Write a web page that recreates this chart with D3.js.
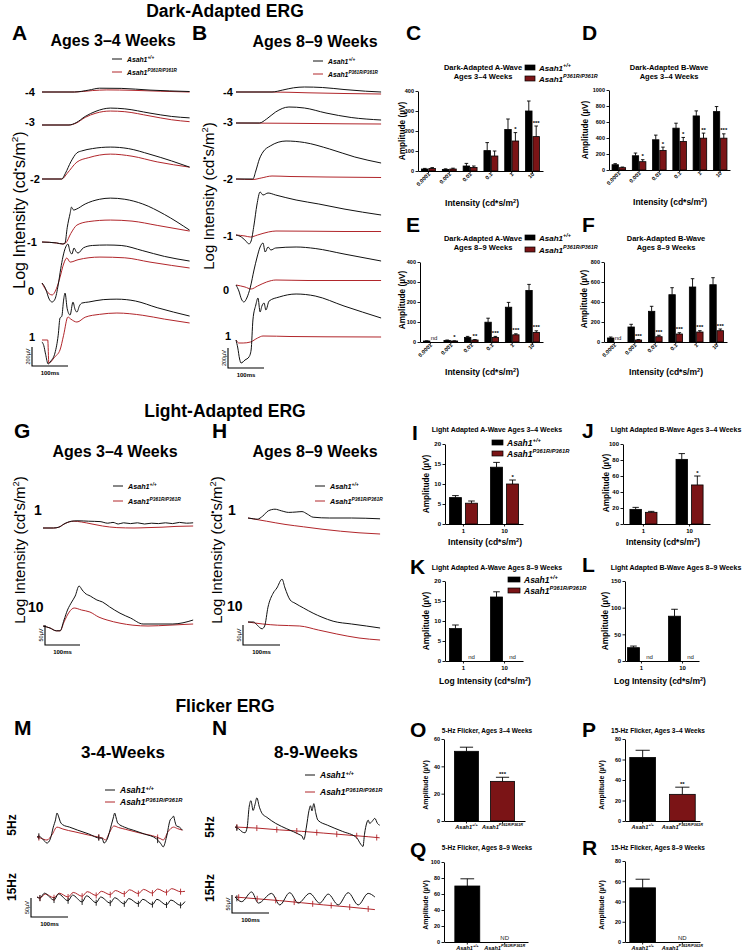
<!DOCTYPE html>
<html><head><meta charset="utf-8"><title>ERG figure</title>
<script src="https://cdn.jsdelivr.net/npm/d3@7/dist/d3.min.js"></script>
<style>html,body{margin:0;padding:0;background:#fff}svg{display:block}</style>
</head><body>
<script>
// ====================== DATA ======================
const genoSup = ["+/+", "P361R/P361R"];

// Dark-adapted ERG traces: [time ms, amplitude uV] relative to each row baseline
const daRowLabels = ["-4","-3","-2","-1","0","1"];
const daTraceYoungWT = [
 [[0,0],[90,0],[130,20],[160,40],[220,38],[300,20],[410,5]],
 [[0,0],[75,0],[95,25],[120,90],[150,145],[190,178],[230,170],[300,125],[360,90],[410,75]],
 [[0,0],[55,0],[65,60],[80,180],[97,275],[110,295],[140,320],[190,336],[240,320],[300,260],[360,190],[410,125]],
 [[0,0],[40,-10],[58,-21],[64,-10],[70,150],[78,300],[82,367],[88,336],[95,345],[120,400],[160,450],[190,462],[230,450],[280,400],[340,290],[410,125]],
 [[0,0],[10,-60],[20,-170],[28,-200],[36,-170],[45,-20],[52,150],[58,273],[66,380],[72,410],[78,330],[83,305],[89,368],[95,330],[100,315],[115,370],[140,395],[180,400],[220,395],[280,340],[340,280],[410,231]],
 [[0,-20],[5,-60],[10,-150],[17,-252],[25,-220],[36,-137],[45,50],[50,231],[55,250],[60,420],[64,494],[70,330],[78,263],[86,399],[92,320],[97,294],[104,360],[111,389],[130,400],[170,425],[208,430],[260,410],[320,340],[410,252]]
];
const daTraceYoungKO = [
 [[0,0],[90,0],[140,15],[180,22],[250,18],[330,8],[410,0]],
 [[0,0],[75,0],[95,20],[120,80],[150,125],[190,147],[230,140],[300,95],[360,55],[410,35]],
 [[0,0],[55,0],[70,60],[97,178],[130,225],[190,262],[250,240],[320,180],[410,125]],
 [[0,0],[40,-10],[58,-21],[66,-10],[80,90],[97,178],[130,215],[190,231],[250,220],[320,175],[410,115]],
 [[0,0],[12,-80],[28,-126],[40,-60],[50,60],[60,200],[69,263],[78,220],[100,245],[161,273],[230,265],[300,220],[360,185],[410,158]],
 [[0,0],[16,0],[19,-242],[35,-180],[50,-105],[60,50],[72,242],[80,220],[97,189],[120,240],[160,270],[208,284],[280,260],[340,220],[410,179]]
];
const daTraceOldWT = [
 [[0,0],[100,0],[130,20],[160,42],[190,50],[240,45],[300,25],[360,8],[403,0]],
 [[0,0],[65,0],[85,40],[110,110],[147,160],[190,150],[250,100],[320,55],[403,30]],
 [[0,0],[47,0],[55,80],[65,200],[75,270],[95,330],[139,380],[190,365],[260,300],[330,220],[403,160]],
 [[0,0],[15,-20],[30,-70],[36,-90],[42,-60],[50,100],[58,300],[67,430],[75,400],[89,420],[110,400],[167,350],[230,310],[300,260],[403,200]],
 [[0,0],[8,-60],[15,-140],[22,-170],[30,-130],[40,-20],[50,150],[58,270],[67,380],[75,420],[81,330],[89,380],[97,350],[110,370],[167,380],[220,365],[300,310],[403,240]],
 [[0,0],[5,-80],[10,-190],[14,-230],[25,-200],[36,-170],[42,-100],[47,200],[55,350],[61,420],[67,280],[72,340],[78,370],[83,300],[92,390],[120,430],[167,460],[220,440],[300,340],[403,220]]
];
const daTraceOldKO = [
 [[0,0],[100,0],[200,-8],[300,-15],[403,-20]],
 [[0,0],[150,-3],[300,-8],[403,-10]],
 [[0,0],[47,-5],[70,10],[100,30],[150,25],[250,20],[403,15]],
 [[0,0],[25,-10],[40,-20],[60,0],[90,30],[111,40],[200,38],[300,35],[403,35]],
 [[0,0],[25,-20],[42,-40],[60,-10],[85,30],[111,50],[200,45],[300,45],[403,45]],
 [[0,0],[8,-30],[20,-30],[40,-20],[60,20],[75,40],[150,35],[250,32],[403,30]]
];

// Light-adapted ERG traces
const laRowLabels = ["1","10"];
const laTraceYoungWT = [
 [[0,0],[30,0],[45,2],[60,10],[82,17],[100,18],[130,17],[163,16],[185,12],[200,14],[215,10],[230,13],[250,11],[270,13],[290,10],[310,12],[330,11],[350,13],[370,11],[390,14],[410,12],[429,13]],
 [[0,0],[20,-5],[38,-12],[49,-12],[60,15],[70,40],[82,60],[92,75],[103,100],[112,90],[120,82],[135,75],[154,65],[170,60],[190,48],[220,32],[250,20],[286,5],[320,5],[371,5],[400,8],[429,15]]
];
const laTraceYoungKO = [
 [[0,0],[30,0],[45,2],[65,12],[88,17],[110,15],[140,10],[170,5],[211,1],[260,0],[300,1],[340,2],[380,4],[429,5]],
 [[0,0],[20,-5],[38,-12],[49,-12],[60,10],[75,35],[89,45],[110,40],[134,35],[160,22],[183,15],[220,7],[257,2],[300,0],[360,2],[429,5]]
];
const laTraceOldWT = [
 [[0,0],[15,-2],[25,-3],[40,5],[55,18],[73,22],[90,18],[110,14],[130,15],[146,16],[160,10],[176,2],[220,0],[280,0],[357,-2]],
 [[0,0],[15,0],[25,-8],[38,-17],[45,-10],[54,37],[68,72],[78,85],[92,107],[100,85],[114,55],[127,47],[150,35],[176,22],[200,12],[230,2],[280,-5],[320,-10],[357,-15]]
];
const laTraceOldKO = [
 [[0,0],[50,-8],[100,-16],[150,-22],[200,-28],[250,-33],[300,-37],[357,-40]],
 [[0,0],[40,-5],[80,-8],[140,-10],[190,-20],[240,-30],[300,-40],[357,-45]]
];

// Flicker ERG traces
const flRowLabels = ["5Hz","15Hz"];
const flTraceYoungWT = [
 [[0,0],[5,2],[15,-5],[27,-16],[36,-5],[44,26],[50,45],[54,63],[58,55],[63,40],[70,32],[88,26],[110,18],[140,8],[170,-3],[176,-3],[181,-16],[190,-5],[201,32],[206,50],[210,63],[214,50],[218,37],[236,26],[260,18],[290,8],[323,-5],[335,-18],[341,-26],[350,0],[360,45],[365,50],[369,55],[373,40],[377,29],[385,26],[393,18]],
 [[0,0],[8,-3],[20,10],[46,-8],[58,8],[84,-10],[96,5],[122,-13],[134,3],[160,-15],[172,0],[198,-16],[210,-2],[236,-18],[248,-4],[274,-18],[286,-6],[312,-20],[324,-6],[350,-21],[362,-8],[388,-22],[400,-12]]
];
const flTraceYoungKO = [
 [[0,0],[10,-3],[27,-8],[40,5],[54,26],[62,24],[70,21],[100,14],[140,5],[170,-1],[178,-3],[185,-8],[195,10],[208,29],[220,25],[240,20],[280,10],[323,0],[335,-5],[341,-8],[355,15],[369,26],[380,22],[393,18]],
 [[0,0],[8,-3],[22,8],[46,-2],[60,10],[84,0],[98,12],[122,2],[136,14],[160,4],[174,15],[198,6],[212,17],[236,8],[250,19],[274,9],[288,20],[312,10],[326,21],[350,12],[364,22],[388,14],[400,15]]
];
const flTraceOldWT = [
 [[0,0],[10,-5],[20,-14],[27,-16],[33,0],[38,54],[43,73],[49,46],[54,62],[59,81],[66,55],[73,38],[86,27],[110,10],[140,-5],[176,-22],[181,-25],[186,-35],[193,0],[200,46],[204,59],[208,45],[213,65],[218,40],[224,19],[250,5],[290,-12],[329,-30],[340,-48],[346,-54],[350,-20],[356,11],[360,19],[364,10],[370,15],[378,24],[385,10],[391,5]],
 [[0,0],[18,-13],[45,14],[63,-17],[99,10],[121,-22],[148,12],[171,-17],[202,10],[229,-17],[252,8],[279,-22],[306,12],[333,-22],[360,10],[378,0]]
];
const flTraceOldKO = [
 [[0,0],[60,-3],[120,-8],[180,-12],[240,-17],[300,-22],[360,-27],[391,-30]],
 [[0,0],[60,-5],[120,-10],[180,-16],[240,-22],[300,-27],[378,-35]]
];
// stimulus / point markers (ms)
const flMarksYoungWT = [[5,167,326],[8,46,84,122,160,198,236,274,312,350,388]];
const flMarksYoungKO = [[5,167,326],[8,46,84,122,160,198,236,274,312,350,388]];
const flMarksOldWT = [[5],[5]];
const flMarksOldKO = [[5,59,113,167,221,275,329,383],[10,60,110,160,210,260,310,360]];

// Dark-adapted bar data (uV)
const daIntensities = ["0.0001","0.001","0.01","0.1","1","10"];
const daAYoungWT = [10,8,25,102,208,300],   daAYoungWTErr = [3,3,13,40,52,50];
const daAYoungKO = [13,10,18,75,150,172],   daAYoungKOErr = [4,4,7,25,42,53];
const daAYoungSig = ["","","","","*","***"];
const daBYoungWT = [66,178,378,523,676,730], daBYoungWTErr = [13,34,58,62,63,63];
const daBYoungKO = [29,104,245,357,398,398], daBYoungKOErr = [8,25,41,50,63,54];
const daBYoungSig = ["","*","*","*","**","***"];
const daAOldWT = [5,8,23,99,174,258],       daAOldWTErr = [1,2,5,20,24,30];
const daAOldKO = [null,5,10,23,36,48],      daAOldKOErr = [0,1,2,5,5,8];
const daAOldSig = ["nd","*","**","***","***","***"];
const daBOldWT = [40,150,307,473,550,573],  daBOldWTErr = [10,27,50,70,83,70];
const daBOldKO = [null,20,53,80,100,113],   daBOldKOErr = [0,4,14,13,13,17];
const daBOldSig = ["nd","***","***","***","***","***"];

// Light-adapted bar data
const laIntensities = ["1","10"];
const laAYoungWT = [6.6,14.2], laAYoungWTErr = [0.5,1.2];
const laAYoungKO = [5.2,10.0], laAYoungKOErr = [0.55,1.0];
const laAYoungSig = ["","*"];
const laBYoungWT = [18.3,80.8], laBYoungWTErr = [2.5,7.2];
const laBYoungKO = [14.6,48.8], laBYoungKOErr = [1.2,11.2];
const laBYoungSig = ["","*"];
const laAOldWT = [8.1,16.0], laAOldWTErr = [0.9,1.3];
const laAOldKO = [null,null], laAOldKOErr = [0,0];
const laAOldSig = ["nd","nd"];
const laBOldWT = [25,84], laBOldWTErr = [3,13];
const laBOldKO = [null,null], laBOldKOErr = [0,0];
const laBOldSig = ["nd","nd"];

// Flicker bar data [WT, KO]
const fl5Young = [51,29],  fl5YoungErr = [3,3],  fl5YoungSig = ["","***"];
const fl15Young = [62,26], fl15YoungErr = [7,7], fl15YoungSig = ["","**"];
const fl5Old = [70,null],  fl5OldErr = [9,0],    fl5OldSig = ["","ND"];
const fl15Old = [53.5,null], fl15OldErr = [8.5,0], fl15OldSig = ["","ND"];

// ====================== DRAWING ======================
const FONT = "'Liberation Sans', Arial, Helvetica, sans-serif";
const BLACK = "#111", RED_LINE = "#b1262b", RED_BAR = "#7b1416";
const svg = d3.select("body").append("svg").attr("width",747).attr("height",951)
  .attr("font-family",FONT);

function txt(x,y,s,o={}){
  const t = svg.append("text").attr("x",x).attr("y",y).text(s)
    .attr("font-size",o.size||10).attr("font-weight",o.weight||"bold")
    .attr("text-anchor",o.anchor||"start").attr("fill",o.fill||"#000");
  if(o.italic) t.attr("font-style","italic");
  if(o.rotate!=null) t.attr("transform",`rotate(${o.rotate},${x},${y})`);
  return t;
}
function geno(x,y,sup,size,anchor){
  const t = svg.append("text").attr("x",x).attr("y",y).attr("font-size",size)
    .attr("font-weight","bold").attr("font-style","italic").attr("text-anchor",anchor||"start");
  t.append("tspan").text("Asah1");
  t.append("tspan").attr("dy",-size*0.4).attr("font-size",size*0.68).text(sup);
  return t;
}
function logIntensityLabel(x,y,size){
  const t = svg.append("text").attr("transform",`translate(${x},${y}) rotate(-90)`)
    .attr("text-anchor","middle").attr("font-size",size);
  t.append("tspan").text("Log Intensity (cd");
  t.append("tspan").attr("dy",-size*0.35).attr("font-size",size*0.6).text("\u2022");
  t.append("tspan").attr("dy",size*0.35).text("s/m");
  t.append("tspan").attr("dy",-size*0.4).attr("font-size",size*0.62).text("2");
  t.append("tspan").attr("dy",size*0.4).text(")");
}
function intensityTitle(x,y,size,prefix){
  const t = svg.append("text").attr("x",x).attr("y",y).attr("text-anchor","middle")
    .attr("font-size",size).attr("font-weight","bold");
  t.append("tspan").text(prefix+"Intensity (cd*s/m");
  t.append("tspan").attr("dy",-size*0.4).attr("font-size",size*0.65).text("2");
  t.append("tspan").attr("dy",size*0.4).text(")");
}
function traceLegend(x,y,size,gap){
  svg.append("line").attr("x1",x).attr("x2",x+10).attr("y1",y).attr("y2",y).attr("stroke",BLACK).attr("stroke-width",1);
  geno(x+15,y+size*0.38,genoSup[0],size);
  svg.append("line").attr("x1",x).attr("x2",x+10).attr("y1",y+gap).attr("y2",y+gap).attr("stroke",RED_LINE).attr("stroke-width",1);
  geno(x+15,y+gap+size*0.38,genoSup[1],size);
}
function interp(pts,t){
  const i = d3.bisector(d=>d[0]).left(pts,t);
  if(i<=0) return pts[0][1];
  if(i>=pts.length) return pts[pts.length-1][1];
  const a=pts[i-1], b=pts[i], f=(t-a[0])/(b[0]-a[0]);
  return a[1]+f*(b[1]-a[1]);
}
function drawTraces(p){
  const x = d3.scaleLinear().domain([0,100]).range([p.x0,p.x0+p.px100]);
  const a = d3.scaleLinear().domain([0,p.barUV]).range([0,p.barPx]);
  p.labels.forEach((lab,i)=>{
    const base = p.bases[i];
    const line = d3.line().x(d=>x(d[0])).y(d=>base-a(d[1])).curve(d3.curveMonotoneX);
    svg.append("path").attr("d",line(p.ko[i])).attr("fill","none").attr("stroke",RED_LINE).attr("stroke-width",1);
    svg.append("path").attr("d",line(p.wt[i])).attr("fill","none").attr("stroke",BLACK).attr("stroke-width",1);
    if(p.marksWT){
      [[p.marksKO,p.ko,RED_LINE],[p.marksWT,p.wt,BLACK]].forEach(([mk,tr,col])=>{
        mk[i].forEach(t=>{
          const yy = base - a(interp(tr[i],t));
          svg.append("line").attr("x1",x(t)).attr("x2",x(t)).attr("y1",yy-p.markH).attr("y2",yy+p.markH)
            .attr("stroke",col).attr("stroke-width",0.9);
        });
      });
    }
    if(p.rotLabels) txt(p.labelX[i],p.labelY[i],lab,{size:p.labelSize,anchor:"middle",rotate:-90});
    else txt(p.labelX[i],p.labelY[i],lab,{size:p.labelSize});
  });
  // scale bar
  const w = x(100)-x(0);
  svg.append("path").attr("d",`M${p.sbX},${p.sbY-a(p.barUV)}V${p.sbY}H${p.sbX+w}`)
    .attr("fill","none").attr("stroke","#000").attr("stroke-width",1.1);
  txt(p.sbX-2.5,p.sbY-a(p.barUV)/2,p.barUV+"\u00b5V",{size:5.5,anchor:"middle",rotate:-90,weight:"normal"});
  txt(p.sbX+w/2,p.sbY+9,"100ms",{size:6,anchor:"middle"});
}

function barChart(c){
  const y = d3.scaleLinear().domain([0,c.max]).range([c.y0,c.yTop]);
  const xb = d3.scaleBand().domain(c.cats).range([c.x0,c.x1]).paddingInner(c.pi).paddingOuter(c.po);
  const items = [];
  if(c.single){
    c.cats.forEach((k,i)=>items.push({x:xb(k),w:xb.bandwidth(),v:c.vals[i],e:c.errs[i],fill:i?RED_BAR:"#000",sig:c.sig[i]}));
  } else {
    const xs = d3.scaleBand().domain(["wt","ko"]).range([0,xb.bandwidth()]).paddingInner(c.sub);
    c.cats.forEach((k,i)=>{
      items.push({x:xb(k)+xs("wt"),w:xs.bandwidth(),v:c.wt[i],e:c.wtErr[i],fill:"#000",sig:""});
      items.push({x:xb(k)+xs("ko"),w:xs.bandwidth(),v:c.ko[i],e:c.koErr[i],fill:RED_BAR,sig:c.sig[i]});
    });
  }
  const g = svg.append("g");
  items.forEach(d=>{
    const cx = d.x+d.w/2;
    if(d.v==null){
      if(d.sig) g.append("text").attr("x",cx).attr("y",c.y0-2.5).attr("text-anchor","middle")
        .attr("font-size",c.ndSize||6).attr("fill","#222").text(d.sig);
      return;
    }
    g.append("rect").attr("x",d.x).attr("y",y(d.v)).attr("width",d.w).attr("height",c.y0-y(d.v))
      .attr("fill",d.fill).attr("stroke","#000").attr("stroke-width",0.8);
    const ye = y(d.v+d.e), cw = d.w*0.55;
    g.append("path").attr("d",`M${cx},${y(d.v)}V${ye}M${cx-cw/2},${ye}H${cx+cw/2}`)
      .attr("stroke","#000").attr("stroke-width",0.9).attr("fill","none");
    if(d.sig) g.append("text").attr("x",cx).attr("y",ye-1.5).attr("text-anchor","middle")
      .attr("font-size",6).attr("font-weight","bold").text(d.sig);
  });
  // axes
  const ya = svg.append("g").attr("transform",`translate(${c.x0},0)`)
    .call(d3.axisLeft(y).tickValues(c.ticks).tickSize(2.5).tickSizeOuter(0).tickPadding(1.5).tickFormat(d3.format("d")));
  ya.selectAll("text").attr("font-size",c.tickFont).attr("font-weight","bold").attr("font-family",FONT);
  const xa = svg.append("g").attr("transform",`translate(0,${c.y0})`)
    .call(d3.axisBottom(xb).tickSize(2.5).tickSizeOuter(0).tickPadding(2));
  xa.selectAll("text").attr("font-size",c.tickFont).attr("font-weight","bold").attr("font-family",FONT);
  [ya,xa].forEach(a=>{a.select(".domain").attr("stroke-width",1);a.selectAll(".tick line").attr("stroke-width",0.9);});
  if(c.rotate){
    xa.selectAll("text").attr("text-anchor","end").attr("x",-1).attr("y",4).attr("dy",0)
      .attr("transform","rotate(-45)");
  }
  if(c.single){
    xa.selectAll("text").remove();
    c.cats.forEach((k,i)=>geno(xb(k)+xb.bandwidth()/2,c.y0+7.5,k,5.6,"middle"));
  }
  // titles
  if(c.title) c.title.forEach((s,i)=>txt(c.titleX,c.titleY+i*9,s,{size:c.titleSize||7.5,anchor:"middle"}));
  txt(c.yTitleX,c.yTitleY,"Amplitude (\u00b5V)",{size:c.yTitleSize||8.3,anchor:"middle",rotate:-90});
  if(c.xTitle!=null) intensityTitle(c.xTitleX,c.xTitleY,c.xTitleSize||8.5,c.xTitle);
  if(c.legend){
    const L=c.legend;
    [0,1].forEach(i=>{
      svg.append("rect").attr("x",L.x).attr("y",L.y+i*L.gap).attr("width",L.w).attr("height",5)
        .attr("fill",i?RED_BAR:"#000").attr("stroke","#000").attr("stroke-width",0.7);
      geno(L.x+L.w+4,L.y+i*L.gap+5.5,genoSup[i],L.size);
    });
  }
}

// ---------- section titles ----------
txt(225,16.5,"Dark-Adapted ERG",{size:17.5,anchor:"middle"});
txt(225,417,"Light-Adapted ERG",{size:17.5,anchor:"middle"});
txt(225,712,"Flicker ERG",{size:17.5,anchor:"middle"});

// panel letters
[["A",12,40],["B",192,40],["C",406,40],["D",582,40],["E",406,232],["F",582,232],
 ["G",14,438],["H",212,438],["I",412,440],["J",582,438],["K",410,574],["L",582,572],
 ["M",14,735],["N",212,735],["O",410,737],["P",582,737],["Q",410,857],["R",582,855]]
 .forEach(([s,x,y])=>txt(x,y,s,{size:21}));

// ---------- A ----------
txt(113,46,"Ages 3\u20134 Weeks",{size:16,anchor:"middle"});
traceLegend(112,59,6.8,13);
logIntensityLabel(24.5,210,16);
drawTraces({x0:42,px100:36,barUV:200,barPx:19,labels:daRowLabels,
  bases:[92,125,179,242,283,340],labelX:[25,25,30,27,28,29],labelY:[96,126,183,246,295,341],labelSize:11,
  wt:daTraceYoungWT,ko:daTraceYoungKO,sbX:32,sbY:366});
// ---------- B ----------
txt(315,47,"Ages 8\u20139 Weeks",{size:16,anchor:"middle"});
traceLegend(313,61,6.8,13);
logIntensityLabel(213.5,196,15);
drawTraces({x0:236,px100:36,barUV:200,barPx:20,labels:daRowLabels,
  bases:[92,123,179,235,285,340],labelX:[223,223,223,223,223,225],labelY:[96,126,183,240,294,340],labelSize:11,
  wt:daTraceOldWT,ko:daTraceOldKO,sbX:228,sbY:368});

// ---------- C, D, E, F ----------
barChart({x0:418,x1:543,y0:171,yTop:91,max:400,ticks:[0,100,200,300,400],cats:daIntensities,
  pi:0.33,po:0.17,sub:0.12,wt:daAYoungWT,wtErr:daAYoungWTErr,ko:daAYoungKO,koErr:daAYoungKOErr,sig:daAYoungSig,
  rotate:true,tickFont:5.5,title:["Dark-Adapted A-Wave","Ages 3\u20134 Weeks"],titleX:483,titleY:70,
  yTitleX:405,yTitleY:131,xTitle:"",xTitleX:482,xTitleY:206,
  legend:{x:525,y:65,gap:11,w:10,size:8}});
barChart({x0:609,x1:730,y0:170,yTop:90,max:1000,ticks:[0,200,400,600,800,1000],cats:daIntensities,
  pi:0.33,po:0.15,sub:0.12,wt:daBYoungWT,wtErr:daBYoungWTErr,ko:daBYoungKO,koErr:daBYoungKOErr,sig:daBYoungSig,
  rotate:true,tickFont:5.5,title:["Dark-Adapted B-Wave","Ages 3\u20134 Weeks"],titleX:669,titleY:70,
  yTitleX:588,yTitleY:130,xTitle:"",xTitleX:670,xTitleY:205});
barChart({x0:420,x1:543,y0:342,yTop:262,max:400,ticks:[0,100,200,300,400],cats:daIntensities,
  pi:0.33,po:0.17,sub:0.12,wt:daAOldWT,wtErr:daAOldWTErr,ko:daAOldKO,koErr:daAOldKOErr,sig:daAOldSig,
  rotate:true,tickFont:5.5,title:["Dark-Adapted A-Wave","Ages 8\u20139 Weeks"],titleX:483,titleY:241,
  yTitleX:405,yTitleY:300,xTitle:"",xTitleX:482,xTitleY:375,
  legend:{x:525,y:235,gap:12,w:10,size:8}});
barChart({x0:604,x1:727,y0:342,yTop:262,max:800,ticks:[0,200,400,600,800],cats:daIntensities,
  pi:0.33,po:0.17,sub:0.12,wt:daBOldWT,wtErr:daBOldWTErr,ko:daBOldKO,koErr:daBOldKOErr,sig:daBOldSig,
  rotate:true,tickFont:5.5,title:["Dark-Adapted B-Wave","Ages 8\u20139 Weeks"],titleX:666,titleY:241,
  yTitleX:587,yTitleY:299,xTitle:"",xTitleX:666,xTitleY:375});

// ---------- G, H ----------
txt(115,457,"Ages 3\u20134 Weeks",{size:16,anchor:"middle"});
txt(315,457,"Ages 8\u20139 Weeks",{size:16,anchor:"middle"});
traceLegend(113,486,7.2,15);
traceLegend(315,486,7.2,15);
logIntensityLabel(24.5,550,15);
logIntensityLabel(221.5,550,15);
drawTraces({x0:43,px100:35,barUV:50,barPx:20,labels:laRowLabels,bases:[528,626],
  labelX:[34,28],labelY:[515,612],labelSize:14,wt:laTraceYoungWT,ko:laTraceYoungKO,sbX:45,sbY:645});
drawTraces({x0:248,px100:37,barUV:50,barPx:20,labels:laRowLabels,bases:[518,622],
  labelX:[228,227],labelY:[515,611],labelSize:14,wt:laTraceOldWT,ko:laTraceOldKO,sbX:243,sbY:645});

// ---------- I, J, K, L ----------
barChart({x0:445,x1:523,y0:524,yTop:444,max:20,ticks:[0,5,10,15,20],cats:laIntensities,
  pi:0.317,po:0.108,sub:0.25,wt:laAYoungWT,wtErr:laAYoungWTErr,ko:laAYoungKO,koErr:laAYoungKOErr,sig:laAYoungSig,
  tickFont:6,title:["Light Adapted A-Wave Ages 3\u20134 Weeks"],titleSize:7,titleX:497,titleY:432,
  yTitleX:429,yTitleY:484,xTitle:"",xTitleX:485,xTitleY:545,
  legend:{x:492,y:440,gap:11,w:11,size:8.5}});
barChart({x0:623,x1:710,y0:524,yTop:444,max:100,ticks:[0,20,40,60,80,100],cats:laIntensities,
  pi:0.413,po:0.15,sub:0.26,wt:laBYoungWT,wtErr:laBYoungWTErr,ko:laBYoungKO,koErr:laBYoungKOErr,sig:laBYoungSig,
  tickFont:6,title:["Light Adapted B-Wave Ages 3\u20134 Weeks"],titleSize:7,titleX:676,titleY:432,
  yTitleX:609,yTitleY:483,xTitle:"",xTitleX:663,xTitleY:545});
barChart({x0:445,x1:523,y0:661,yTop:581,max:20,ticks:[0,5,10,15,20],cats:laIntensities,
  pi:0.317,po:0.108,sub:0.25,wt:laAOldWT,wtErr:laAOldWTErr,ko:laAOldKO,koErr:laAOldKOErr,sig:laAOldSig,
  tickFont:6,title:["Light Adapted A-Wave Ages 8\u20139 Weeks"],titleSize:7,titleX:497,titleY:570,
  yTitleX:429,yTitleY:621,xTitle:"Log ",xTitleX:485,xTitleY:684,
  legend:{x:508,y:577,gap:11,w:12,size:8.5}});
barChart({x0:625,x1:699,y0:661,yTop:581,max:150,ticks:[0,50,100,150],cats:laIntensities,
  pi:0.317,po:0.06,sub:0.25,wt:laBOldWT,wtErr:laBOldWTErr,ko:laBOldKO,koErr:laBOldKOErr,sig:laBOldSig,
  tickFont:6,title:["Light Adapted B-Wave Ages 8\u20139 Weeks"],titleSize:7,titleX:676,titleY:570,
  yTitleX:608,yTitleY:621,xTitle:"Log ",xTitleX:660,xTitleY:684});

// ---------- M, N ----------
txt(123,758,"3-4-Weeks",{size:17,anchor:"middle"});
txt(316,758,"8-9-Weeks",{size:17,anchor:"middle"});
traceLegend(105,790,8.5,12);
traceLegend(305,775,8.5,17);
drawTraces({x0:37,px100:37,barUV:50,barPx:19,labels:flRowLabels,bases:[837,897],
  rotLabels:true,labelX:[16,16],labelY:[825,887],labelSize:12,
  wt:flTraceYoungWT,ko:flTraceYoungKO,marksWT:flMarksYoungWT,marksKO:flMarksYoungKO,markH:3,sbX:31,sbY:917});
drawTraces({x0:235,px100:37,barUV:50,barPx:18,labels:flRowLabels,bases:[827,897],
  rotLabels:true,labelX:[214,214],labelY:[827,888],labelSize:12,
  wt:flTraceOldWT,ko:flTraceOldKO,marksWT:flMarksOldWT,marksKO:flMarksOldKO,markH:3,sbX:232,sbY:913});

// ---------- O, P, Q, R ----------
barChart({single:true,x0:444,x1:525,y0:821,yTop:739,max:60,ticks:[0,20,40,60],cats:genoSup,
  pi:0.333,po:0.29,vals:fl5Young,errs:fl5YoungErr,sig:fl5YoungSig,tickFont:5.5,
  title:["5-Hz Flicker, Ages 3\u20134 Weeks"],titleSize:6.5,titleX:487,titleY:733,yTitleX:428,yTitleY:785,yTitleSize:7});
barChart({single:true,x0:625,x1:700,y0:821,yTop:739,max:80,ticks:[0,20,40,60,80],cats:genoSup,
  pi:0.35,po:0.12,vals:fl15Young,errs:fl15YoungErr,sig:fl15YoungSig,tickFont:5.5,
  title:["15-Hz Flicker, Ages 3\u20134 Weeks"],titleSize:6.5,titleX:658,titleY:733,yTitleX:604,yTitleY:785,yTitleSize:7});
barChart({single:true,x0:444,x1:528,y0:942,yTop:862,max:100,ticks:[0,20,40,60,80,100],cats:genoSup,
  pi:0.333,po:0.29,vals:fl5Old,errs:fl5OldErr,sig:fl5OldSig,tickFont:5.5,
  title:["5-Hz Flicker, Ages 8\u20139 Weeks"],titleSize:6.5,titleX:487,titleY:850,yTitleX:428,yTitleY:905,yTitleSize:7});
barChart({single:true,x0:625,x1:700,y0:942,yTop:861,max:80,ticks:[0,20,40,60,80],cats:genoSup,
  pi:0.35,po:0.12,vals:fl15Old,errs:fl15OldErr,sig:fl15OldSig,tickFont:5.5,
  title:["15-Hz Flicker, Ages 8\u20139 Weeks"],titleSize:6.5,titleX:658,titleY:850,yTitleX:604,yTitleY:905,yTitleSize:7});
</script>
</body></html>
